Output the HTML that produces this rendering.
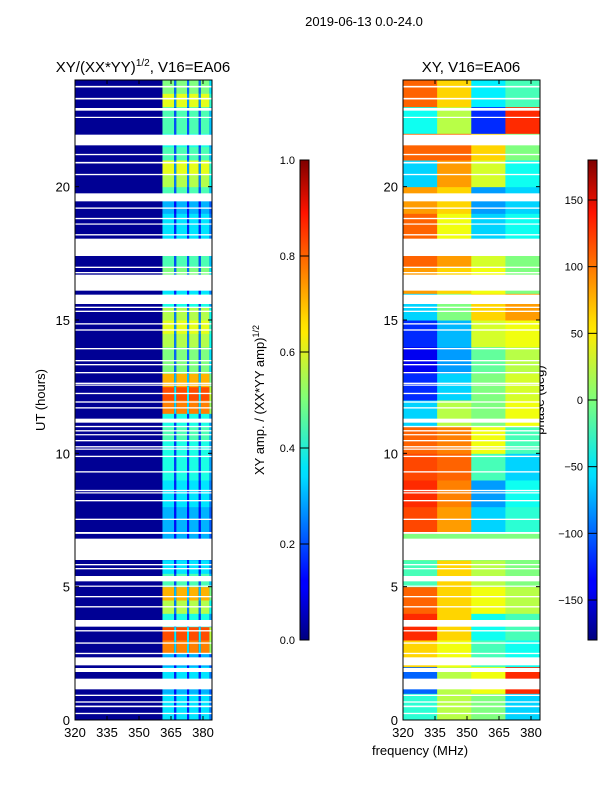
<!DOCTYPE html>
<html><head><meta charset="utf-8"><style>
body{margin:0;background:#fff;}
svg text{font-family:"Liberation Sans",sans-serif;fill:#000;}
</style></head><body>
<svg id="fig" width="600" height="800" viewBox="0 0 600 800">
<defs>
<linearGradient id="jetv" x1="0" y1="1" x2="0" y2="0">
<stop offset="0" stop-color="#00007f"/><stop offset="0.11" stop-color="#0000ff"/><stop offset="0.125" stop-color="#0000ff"/>
<stop offset="0.34" stop-color="#00dcff"/><stop offset="0.36" stop-color="#00e5f8"/><stop offset="0.5" stop-color="#7dff7a"/>
<stop offset="0.64" stop-color="#ffea00"/><stop offset="0.66" stop-color="#ffe000"/><stop offset="0.89" stop-color="#ff1300"/>
<stop offset="1" stop-color="#7f0000"/></linearGradient>
</defs>
<text x="364" y="26" font-size="13" text-anchor="middle">2019-06-13 0.0-24.0</text>
<text x="143" y="72" font-size="15" text-anchor="middle">XY/(XX*YY)<tspan font-size="10" dy="-6">1/2</tspan><tspan dy="6">, V16=EA06</tspan></text>
<text x="471" y="72" font-size="15" text-anchor="middle">XY, V16=EA06</text>
<text transform="translate(45,400) rotate(-90)" font-size="13" text-anchor="middle">UT (hours)</text>
<text transform="translate(264,400) rotate(-90)" font-size="13" text-anchor="middle">XY amp. / (XX*YY amp)<tspan font-size="9" dy="-5">1/2</tspan></text>
<text transform="translate(544,400) rotate(-90)" font-size="13" text-anchor="middle">phase (deg)</text>
<text x="420" y="755" font-size="13" text-anchor="middle">frequency (MHz)</text>
<g id="ampPanel"></g>
<g id="phasePanel"></g>
<g id="cbars"></g>
</svg>
<script>
// ---- data ----
const xTicks = [320, 335, 350, 365, 380];
const yTicks = [0, 5, 10, 15, 20];
const ampTicks = [0.0, 0.2, 0.4, 0.6, 0.8, 1.0];
const phaseTicks = [-150, -100, -50, 0, 50, 100, 150];
// amplitude per 0.5 h bin (0..24 h)
const ampValues = [0.35,0.35,0.3,0.35,0.3,0.75,0.8,0.4,0.55,0.7,0.45,0.35,0.3,0.3,0.3,0.3,0.35,0.35,0.4,0.4,0.4,0.45,0.4,0.75,0.8,0.7,0.5,0.5,0.55,0.6,0.55,0.4,0.35,0.5,0.45,0.4,0.35,0.35,0.3,0.45,0.55,0.6,0.45,0.4,0.45,0.45,0.6,0.5];
const ampStripeEdges = [361,366.5,367.5,372.5,373.5,378,379,383,384];
const ampStripeFactor = [1,0.45,1,0.45,1,0.45,1,0.7];
const ampBackground = 0.02;
// phase per 1 h bin, 4 frequency columns
const phaseColEdges = [320,336,352,368,384];
const phaseValues = [
[-30,20,0,-60],[-100,20,40,120],[60,40,-20,-40],[120,60,-40,-20],[100,60,40,20],[-20,60,20,0],
[0,0,0,0],[110,80,-60,-30],[120,90,-80,-40],[110,100,-20,-60],[100,90,40,-20],[-60,20,0,40],
[-120,-60,0,30],[-140,-80,-10,20],[-120,-70,30,40],[-60,0,60,80],[80,60,40,0],[100,80,30,0],
[100,40,-60,-40],[80,60,-80,-60],[-60,80,30,-40],[100,100,60,0],[-40,20,-120,120],[100,60,-50,-20]];
// flagged (white) time ranges in hours
const flagged = [[23.72,23.78],[23.27,23.33],[22.85,22.95],[22.58,22.62],[21.55,21.95],[21.18,21.23],[20.87,20.93],[20.43,20.48],
[19.45,19.75],[19.17,19.22],[18.78,18.83],[18.58,18.62],[18.17,18.22],[17.4,18.05],[16.95,17.0],[16.75,16.8],[16.6,16.65],
[16.1,16.7],[15.6,15.95],[15.45,15.5],[15.3,15.35],[14.83,14.88],[14.6,14.65],[13.9,13.95],[13.45,13.5],[13.3,13.35],
[13.0,13.05],[12.6,12.65],[12.55,12.58],[12.22,12.27],[11.9,11.95],[11.68,11.73],[11.15,11.3],[10.98,11.03],[10.82,10.87],
[10.68,10.72],[10.45,10.5],[10.22,10.27],[10.14,10.18],[9.86,9.91],[9.28,9.33],[8.58,8.63],[8.5,8.54],[8.2,8.25],
[7.5,7.55],[6.98,7.05],[6.0,6.8],[5.8,5.85],[5.65,5.7],[5.2,5.4],[5.0,5.04],[4.6,4.65],[4.22,4.27],[3.5,3.75],
[3.32,3.37],[2.86,2.91],[2.47,2.52],[2.05,2.35],[1.8,1.95],[1.15,1.55],[0.9,0.95],[0.65,0.7],[0.48,0.54],[0.22,0.27]];

// ---- helpers ----
const NS = "http://www.w3.org/2000/svg";
function jet(v){
  v=Math.max(0,Math.min(1,v));
  const r=Math.max(0,Math.min(1,1.5-Math.abs(4*v-3)));
  const g=Math.max(0,Math.min(1,1.5-Math.abs(4*v-2)));
  const b=Math.max(0,Math.min(1,1.5-Math.abs(4*v-1)));
  return `rgb(${Math.round(r*255)},${Math.round(g*255)},${Math.round(b*255)})`;
}
function mk(tag, attrs, parent){
  const e=document.createElementNS(NS,tag);
  for(const k in attrs) e.setAttribute(k,attrs[k]);
  parent.appendChild(e); return e;
}
const yTop=80, yBot=720, hMax=24;
const yScale = h => yBot - (h/hMax)*(yBot-yTop);
function xScaleFor(x0){ const x1=x0+128; return f => x0 + (f-320)/60*(x1-x0); }

function drawAxes(g, x0, xs){
  const x1=x0+137;
  const frame = mk('rect',{x:x0,y:yTop,width:x1-x0,height:yBot-yTop,fill:'none',stroke:'#000','stroke-width':1},g);
  
  
  xTicks.forEach(t=>{
    const x=xs(t);
    mk('line',{x1:x,x2:x,y1:yBot,y2:yBot-4,stroke:'#000'},g);
    mk('line',{x1:x,x2:x,y1:yTop,y2:yTop+4,stroke:'#000'},g);
    const tx=mk('text',{x:x,y:yBot+17,'font-size':13,'text-anchor':'middle'},g);
    tx.textContent=t;
    
    
  });
  yTicks.forEach(t=>{
    const y=yScale(t);
    mk('line',{x1:x0,x2:x0+4,y1:y,y2:y,stroke:'#000'},g);
    mk('line',{x1:x1,x2:x1-4,y1:y,y2:y,stroke:'#000'},g);
    const tx=mk('text',{x:x0-5,y:y+5,'font-size':13,'text-anchor':'end'},g);
    tx.textContent=t;
    
    
  });
}
function drawFlags(g, x0){
  flagged.forEach(([a,b])=>{
    const r=mk('rect',{x:x0,y:yScale(b),width:137,height:Math.max(1.2,yScale(a)-yScale(b)),fill:'#fff'},g);
    
    
  });
}

// ---- amplitude panel ----
(function(){
  const g=document.getElementById('ampPanel'), x0=75, xs=xScaleFor(x0);
  const bg=mk('rect',{x:x0,y:yTop,width:137,height:yBot-yTop,fill:jet(ampBackground)},g);
  
  
  const dh=hMax/ampValues.length;
  ampValues.forEach((v,i)=>{
    for(let s=0;s<ampStripeFactor.length;s++){
      const xa=xs(ampStripeEdges[s]), xb=Math.min(x0+137,xs(ampStripeEdges[s+1]));
      const r=mk('rect',{x:xa,y:yScale((i+1)*dh),width:xb-xa,height:yScale(i*dh)-yScale((i+1)*dh)+0.5,fill:jet(v*ampStripeFactor[s])},g);
      
      
    }
  });
  drawFlags(g,x0);
  drawAxes(g,x0,xs);
})();

// ---- phase panel ----
(function(){
  const g=document.getElementById('phasePanel'), x0=403, xs=xScaleFor(x0);
  const dh=hMax/phaseValues.length;
  phaseValues.forEach((row,i)=>{
    row.forEach((v,c)=>{
      const xa=xs(phaseColEdges[c]), xb=Math.min(x0+137,xs(phaseColEdges[c+1]));
      const r=mk('rect',{x:xa,y:yScale((i+1)*dh),width:xb-xa+0.5,height:yScale(i*dh)-yScale((i+1)*dh)+0.5,fill:jet((v+180)/360)},g);
      
      
    });
  });
  drawFlags(g,x0);
  drawAxes(g,x0,xs);
})();

// ---- colorbars ----
(function(){
  const g=document.getElementById('cbars');
  function cbar(x, ticks, lo, hi, name){
    const r=mk('rect',{x:x,y:160,width:9,height:480,fill:'url(#jetv)',stroke:'#000','stroke-width':1},g);
    
    
    ticks.forEach(t=>{
      const y=640-(t-lo)/(hi-lo)*480;
      mk('line',{x1:x,x2:x+9,y1:y,y2:y,stroke:'#000','stroke-width':1},g);
      const tx=mk('text',{x:x-5,y:y+4,'font-size':11,'text-anchor':'end'},g);
      tx.textContent = name==='amp-colorbar' ? t.toFixed(1) : (t<0?'\u2212'+(-t):t);
      
      
    });
  }
  cbar(300, ampTicks, 0, 1, 'amp-colorbar');
  cbar(588, phaseTicks, -180, 180, 'phase-colorbar');
})();
</script>
</body></html>
